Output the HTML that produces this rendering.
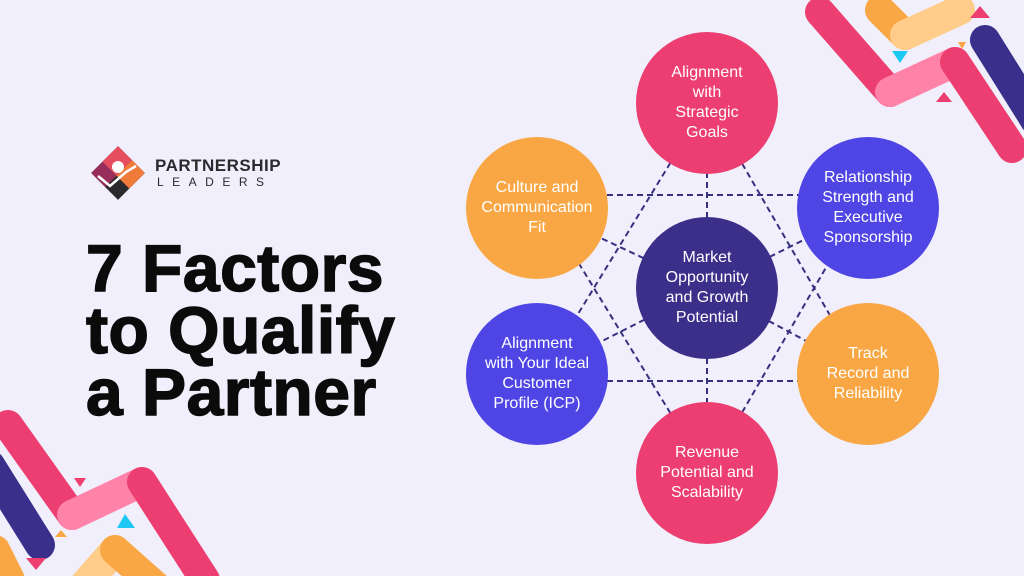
<!DOCTYPE html>
<html><head><meta charset="utf-8"><style>
body{margin:0;width:1024px;height:576px;overflow:hidden;background:#F1EFFC;font-family:"Liberation Sans",sans-serif;position:relative}
.c{position:absolute;width:142px;height:142px;border-radius:50%;display:flex;align-items:center;justify-content:center;text-align:center;color:#fff;font-size:16px;line-height:20px}
.p{background:#EC3E70}.o{background:#F9A745}.b{background:#4E45E4}.d{background:#3C2F8A}
h1{position:absolute;left:86px;top:237px;margin:0;font-size:66px;line-height:62px;font-weight:bold;color:#0b0b0b;letter-spacing:0.5px;-webkit-text-stroke:1.5px #0b0b0b}
</style></head><body>
<svg width="1024" height="576" style="position:absolute;left:0;top:0">
<g stroke-linecap="round" stroke-linejoin="round" fill="none" stroke-width="30">
<polyline points="820,12 890,92" stroke="#EC3E70"/>
<polyline points="890,92 955,62" stroke="#FF82A9"/>
<polyline points="955,62 1012,148" stroke="#EC3E70"/>
<polyline points="880,10 905,35" stroke="#F9A745"/>
<polyline points="905,35 960,10" stroke="#FFCC8A"/>
<polyline points="985,40 1035,120" stroke="#3A2F8A"/>
<polyline points="8,425 72,515" stroke="#EC3E70"/>
<polyline points="72,515 142,482" stroke="#FF82A9"/>
<polyline points="142,482 205,580" stroke="#EC3E70"/>
<polyline points="-10,465 40,545" stroke="#3A2F8A"/>
<polyline points="80,590 115,550" stroke="#FFCC8A"/>
<polyline points="115,550 160,590" stroke="#F9A745"/>
<polyline points="-5,550 10,580" stroke="#F9A745"/>
</g>
<polygon points="980,6 990,18 970,18" fill="#EC3E70"/>
<polygon points="892,51 908,51 900,63" fill="#1DC8F2"/>
<polygon points="958,42 966,42 962,49" fill="#F9A745"/>
<polygon points="944,92 952,102 936,102" fill="#EC3E70"/>
<polygon points="74,478 86,478 80,487" fill="#EC3E70"/>
<polygon points="125,514 135,528 117,528" fill="#1DC8F2"/>
<polygon points="61,530 67,537 55,537" fill="#F9A745"/>
<polygon points="26,558 46,558 36,570" fill="#EC3E70"/>
<g stroke="#373080" stroke-width="2" stroke-dasharray="6 4" fill="none">
<line x1="707" y1="288" x2="707" y2="103"/><line x1="707" y1="288" x2="707" y2="473"/>
<line x1="707" y1="288" x2="537" y2="208"/><line x1="707" y1="288" x2="868" y2="208"/>
<line x1="707" y1="288" x2="537" y2="374"/><line x1="707" y1="288" x2="868" y2="374"/>
<line x1="537" y1="195" x2="868" y2="195"/><line x1="537" y1="381" x2="868" y2="381"/>
<line x1="707" y1="103" x2="537" y2="381"/><line x1="707" y1="103" x2="868" y2="381"/>
<line x1="707" y1="473" x2="537" y2="195"/><line x1="707" y1="473" x2="868" y2="195"/>
</g>
<g transform="translate(118,173) rotate(45)">
<rect x="-19" y="-19" width="38" height="38" fill="#2a2a2e"/>
<rect x="-19" y="-19" width="38" height="22" fill="#F07A3A"/>
<rect x="-19" y="-19" width="20" height="38" fill="#E0307A" opacity=".6"/>
</g>
<circle cx="118" cy="167" r="6" fill="#fff"/>
<polyline points="98,176 110,186 126,172 136,166" stroke="#fff" stroke-width="2.5" fill="none"/>
</svg>
<div style="position:absolute;left:155px;top:156px;font-weight:bold;font-size:17px;color:#2a2a2e;letter-spacing:0.5px">PARTNERSHIP</div>
<div style="position:absolute;left:157px;top:175px;font-size:12px;color:#2a2a2e;letter-spacing:8.5px">LEADERS</div>
<h1>7 Factors<br>to Qualify<br>a Partner</h1>
<div class="c p" style="left:636px;top:32px">Alignment<br>with<br>Strategic<br>Goals</div>
<div class="c o" style="left:466px;top:137px">Culture and<br>Communication<br>Fit</div>
<div class="c b" style="left:797px;top:137px">Relationship<br>Strength and<br>Executive<br>Sponsorship</div>
<div class="c d" style="left:636px;top:217px">Market<br>Opportunity<br>and Growth<br>Potential</div>
<div class="c b" style="left:466px;top:303px">Alignment<br>with Your Ideal<br>Customer<br>Profile (ICP)</div>
<div class="c o" style="left:797px;top:303px">Track<br>Record and<br>Reliability</div>
<div class="c p" style="left:636px;top:402px">Revenue<br>Potential and<br>Scalability</div>
</body></html>
